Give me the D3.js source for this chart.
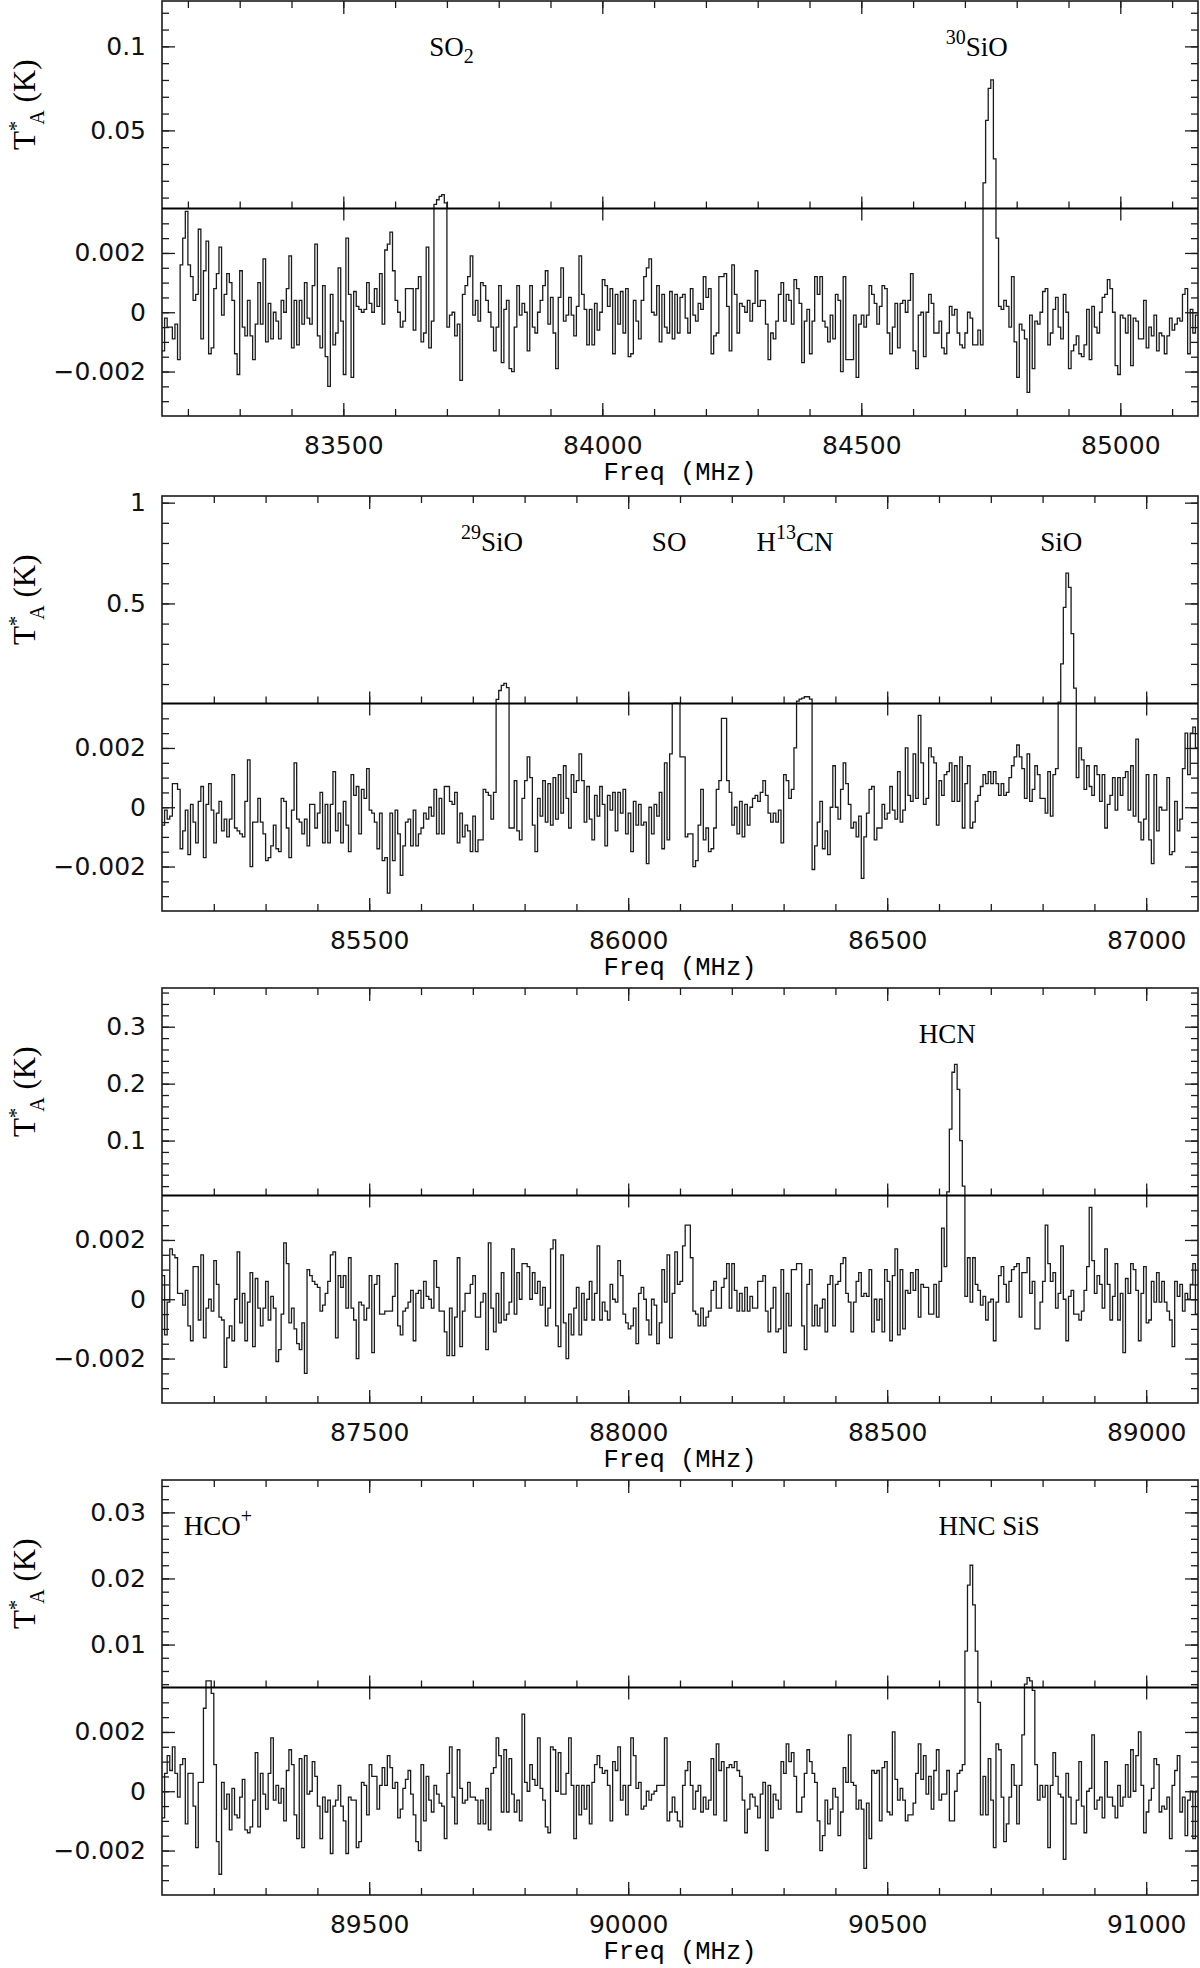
<!DOCTYPE html>
<html>
<head>
<meta charset="utf-8">
<script src="https://d3js.org/d3.v7.min.js"></script>
<style>
  body { margin: 0; background: #fff; }
  svg { display: block; }
</style>
</head>
<body>
<svg id="chart" width="1200" height="1968"></svg>
<script>
// antenna temperature per 5 MHz channel, in units of 0.1 mK (1e-4 K)
var spec1 = [
  -13,-2,-5,-5,-9,-4,-16,16,25,34, 16,12,4,6,28,-9,14,24,-14,-12,
  8,13,22,-1,6,13,10,4,-14,-21, 14,-5,-8,4,-8,-16,-4,10,-4,18,
  -10,3,-9,0,-3,-9,4,0,8,19, -12,4,-11,4,-4,10,-2,-4,9,23,
  -8,-12,9,-15,-25,6,-11,-7,15,-3, -21,25,6,-22,7,2,1,0,1,10,
  3,0,8,2,13,-4,21,23,27,14, 4,0,-5,-3,8,8,8,-6,8,12,
  -10,-7,22,-12,-3,60,87,107,117,68, -5,-1,0,-8,-4,-23,6,9,12,19,
  -1,4,-3,10,9,4,0,-5,-13,-5, 9,-17,1,4,-19,-20,-5,9,-1,3,
  0,-13,9,-5,-7,0,4,9,14,-4, 5,-7,-19,5,15,-3,-1,5,-1,-8,
  2,19,6,1,-11,1,-11,3,-6,0, 11,9,2,8,-14,6,-4,7,-7,8,
  -15,-14,4,-3,-9,4,12,15,18,0, -1,9,-10,6,-5,-7,7,-9,6,-7,
  5,6,-2,-7,8,-1,-3,3,1,12, 5,8,-14,-8,-7,12,12,13,2,-13,
  16,6,-7,3,2,0,4,-3,3,14, 2,4,4,-4,-16,-7,-9,-3,6,10,
  -3,6,4,-4,11,8,3,-17,-3,1, -14,-3,12,6,12,-3,-5,-10,-1,-9,
  6,4,-20,12,-16,-16,-16,-1,-22,-4, -1,-5,-1,9,6,3,-4,2,9,8,
  -7,-14,-5,3,-12,3,4,0,4,13, -13,-19,-1,0,-15,0,6,3,-7,-7,
  -3,-12,-14,-7,2,-1,1,-7,-11,-12, -7,0,-2,-11,-11,-6,-11,187,560,750,
  800,330,25,2,1,4,2,-5,12,-10, -22,-4,-6,-9,-27,-1,-19,-3,-4,0,
  7,8,-11,-7,1,5,-5,-9,6,0, -19,-13,-11,-8,-14,-15,-11,1,-16,2,
  -5,-7,0,5,6,11,8,0,-18,-21, -1,-2,-7,-1,-18,-2,-3,-9,-9,4,
  -12,-5,-8,-1,-13,-7,-8,-14,-8,-2, -6,-4,-2,-3,6,8,-14,1,-7,-1
];
var spec2 = [
  -6,-1,-4,-3,8,8,6,-14,-8,-1, -16,1,-5,-12,2,7,-17,1,8,-1,
  -12,-2,2,-8,-4,-10,-4,11,-7,-8, -9,-10,2,16,-20,-5,-5,3,-5,-9,
  -18,-17,-13,-6,-14,-15,3,2,-7,-17, -1,15,-4,-5,-9,-4,-13,1,1,-7,
  -2,5,-12,1,-12,1,12,-8,-2,-12, 2,-6,-15,11,4,7,-9,6,3,13,
  -1,-2,-5,-14,-2,-18,-17,-29,-2,-18, -1,-9,-23,-13,-5,-4,-13,-1,-13,-9,
  -7,-2,-4,0,-3,6,-9,3,-9,7, 7,2,1,5,-12,-2,-10,-6,-8,-15,
  -3,-15,-11,-11,6,5,4,-4,5,240, 680,930,1030,820,-7,-7,9,-8,-11,3,
  9,17,10,-6,-15,3,-3,9,-5,8, -6,10,-4,11,-2,14,3,-7,11,5,
  9,18,9,-5,7,-4,-11,4,-3,7, 1,-13,4,-1,5,-8,5,-2,6,-9,
  -2,-15,2,-6,1,-6,-5,-19,0,-9, 1,-3,5,-14,15,-11,18,45,50,42,
  17,17,-10,-9,-9,-20,-18,-6,6,-11, -7,-15,-14,-7,6,9,30,30,9,5,
  -6,0,-9,2,-10,1,-6,0,3,4, 2,5,9,4,-2,-5,-2,-5,-1,-12,
  11,9,3,6,20,150,250,300,370,370, 250,-21,-13,-5,2,-14,-8,-16,0,14,
  0,-4,6,15,8,1,-7,-5,-10,-3, -24,-10,-2,6,7,-11,-7,-7,1,-4,
  -2,7,-1,-4,12,-5,-1,20,4,2, 18,3,31,15,1,3,20,17,15,-6,
  9,4,11,12,15,2,14,2,17,-7, 8,14,-7,-5,2,4,7,11,8,12,
  8,12,8,4,8,4,5,10,14,17, 21,17,13,3,18,2,6,14,11,3,
  3,-2,12,-3,11,13,100,2000,4800,6500, 5800,3500,800,10,20,16,6,14,7,4,
  14,11,2,11,-7,1,4,10,-1,10, 4,10,12,-1,14,-3,23,-5,-11,-4,
  11,-11,-19,11,-8,0,-1,-1,10,-16, -15,2,-8,-4,13,25,11,25,27,20
];
var spec3 = [
  8,-12,-1,17,15,14,2,2,-2,3, -9,-14,11,11,-7,15,-13,-3,0,-4,
  13,5,-6,-7,-23,-13,-9,-14,0,16, -8,2,-14,-1,9,-16,7,-3,-9,-3,
  6,-7,1,-3,-21,-17,-5,19,12,-8, -3,-10,-15,-17,-8,-25,10,8,6,5,
  4,-4,-2,2,6,15,16,-13,8,4, 8,-3,14,-3,-7,-20,-1,-2,-7,-3,
  8,-18,5,8,-5,-5,-4,-4,-4,1, 12,-9,-12,-4,-3,-1,3,-14,2,3,
  -3,6,1,0,-3,13,4,-4,-4,-11, -19,-3,-19,-6,14,-16,-4,2,2,5,
  8,-6,-6,-1,2,-17,19,-3,-11,2, -8,9,-7,-5,-1,17,-5,9,0,12,
  12,11,0,9,2,6,-2,4,-9,-3, 17,20,-9,-16,15,-8,-20,-5,-12,-3,
  4,-12,2,-7,0,6,-7,2,18,-7, -1,-4,-7,5,0,-1,13,8,-5,-8,
  -10,-9,-3,-15,2,4,0,-7,-12,0, -2,-15,-8,10,-1,15,-13,2,16,5,
  6,18,25,25,14,-4,-5,-9,-3,-9, -6,-4,3,6,-3,-3,4,7,12,-3,
  12,3,-4,2,-4,4,-4,1,-3,-3, 6,6,8,-4,-11,-3,4,-11,-10,10,
  -18,2,-9,10,10,12,12,-9,-17,5, 10,-9,-2,-9,-3,0,-11,5,8,-9,
  5,6,12,14,2,-1,-11,-1,6,9, 1,2,1,10,-11,0,-7,0,-11,10,
  6,-14,8,17,-12,10,-10,3,2,9, 3,10,-6,5,4,4,-5,-5,5,-6,
  6,24,11,100,1200,2200,2340,1900,1000,200, 1,14,-1,14,5,3,-2,1,-7,-1,
  0,-14,-1,8,11,5,-1,6,10,11, 12,-6,9,9,14,2,6,-10,-10,-1,
  6,25,12,6,9,-3,2,18,0,-14, 1,3,-5,-5,-7,-4,3,11,31,13,
  2,8,5,-3,17,5,-7,1,12,-7, 2,-18,7,2,12,10,3,-14,2,11,
  -8,-7,6,-1,9,-1,6,-1,-4,-7, -16,6,1,5,-4,2,0,5,12,-5
];
var spec4 = [
  -9,6,12,7,15,6,-2,9,11,-11, 6,6,-5,-19,3,3,28,45,45,33,
  9,-17,-28,3,-6,-1,-13,1,-8,-9, -2,4,-13,-14,-12,-3,13,-12,6,-1,
  -6,6,18,-3,2,-4,1,-10,7,14, 9,-8,-16,11,-19,12,-1,0,10,5,
  -5,-16,-2,-7,-3,-21,-5,-3,2,-5, -10,-21,-2,-3,-3,-19,-17,3,2,-8,
  9,5,5,-6,2,8,2,12,8,1, 3,-9,-6,1,4,7,-1,-8,-17,-20,
  9,-10,5,-3,-7,2,-1,-4,-5,-16, 6,15,-2,-11,14,1,-4,-3,3,-2,
  -2,-3,-11,-3,-11,1,-13,6,8,18, 12,-7,14,-7,11,-1,-7,-3,-10,26,
  3,0,9,4,2,18,1,-3,-12,-14, 15,14,0,13,-1,-1,6,18,2,-16,
  2,-8,2,-6,2,-11,3,9,12,8, 6,7,2,-10,10,7,15,-3,2,-8,
  2,18,12,1,3,-6,-5,0,-3,-1, 0,2,2,2,18,-10,-7,-2,-7,-10,
  -12,2,7,10,2,-6,0,2,-7,-2, -6,-3,11,-8,16,7,10,-10,8,9,
  8,10,7,5,-3,-14,-6,-1,-2,-5, -9,-1,3,-20,2,-9,-1,-3,-6,10,
  6,16,10,13,5,-7,-7,-2,6,14, 10,6,3,-10,-20,-15,-3,-11,-6,1,
  -2,-15,-7,8,3,19,3,2,-6,-3, -6,-26,-4,-16,7,6,7,-10,8,10,
  -7,-8,20,4,-3,1,-3,-10,-8,-8, -4,6,16,4,12,-1,5,-6,7,14,
  -3,-1,-1,7,-10,-10,0,6,7,9, 90,190,220,160,90,30,-8,5,-8,11,
  -3,-19,16,14,-2,-17,-11,-2,9,2, -11,2,19,40,50,45,34,9,-3,2,
  -2,2,-19,2,13,5,-1,-2,-23,6, -2,-11,-11,-3,10,-5,-14,0,1,19,
  -6,-3,-2,-9,10,-2,-2,-5,-9,2, -5,-2,9,-2,14,0,12,20,2,-14,
  -7,-3,1,11,9,-7,-5,-6,-2,-16, 2,7,12,-7,-2,-15,-3,0,-16,0
];

var freqStart = [83150, 85100, 87100, 89100];   // MHz, first channel edge
var chanWidth = 5;                              // MHz
var splitLevel = 0.0035;                        // K, break between the two y scales
var upperTop = [0.127, 1.033, 0.368, 0.0349];
var upperMajor = [[0.05, 0.1], [0.5, 1], [0.1, 0.2, 0.3], [0.01, 0.02, 0.03]];
var upperMinorStep = [0.01, 0.1, 0.02, 0.002];
var lowerMajor = [-0.002, 0, 0.002];
var lowerMinorStep = 0.0005;
var freqMajorStep = 500, freqMinorStep = 100;

// species labels: frequency of the label centre, pieces [text, "sub"|"sup"|""]
var labels1 = [
  {freq: 83709, parts: [["SO", ""], ["2", "sub"]]},
  {freq: 84723, parts: [["30", "sup"], ["SiO", ""]]}
];
var labels2 = [
  {freq: 85737, parts: [["29", "sup"], ["SiO", ""]]},
  {freq: 86079, parts: [["SO", ""]]},
  {freq: 86322, parts: [["H", ""], ["13", "sup"], ["CN", ""]]},
  {freq: 86836, parts: [["SiO", ""]]}
];
var labels3 = [
  {freq: 88616, parts: [["HCN", ""]]}
];
var labels4 = [
  {freq: 89208, parts: [["HCO", ""], ["+", "sup"]]},
  {freq: 90697, parts: [["HNC SiS", ""]]}
];

(function() {
    var svg = d3.select('#chart');
    var left = 162, right = 1198, half = 207.5;
    var panelTop = [1, 496, 988, 1480];
    var specs = [spec1, spec2, spec3, spec4];
    var labels = [labels1, labels2, labels3, labels4];
    var ink = '#1c1c1c';

    function fmt(v) {
        if (v === 0) return '0';
        return v < 0 ? '\u2212' + (-v) : '' + v;
    }

    function steps(from, to, step) {
        var out = [];
        var n = Math.ceil((to - from) / step) + 1;
        for (var k = 0; k < n; k++) {
            var v = Math.round((Math.ceil(from / step) + k) * step * 1e6) / 1e6;
            if (v > from + 1e-9 && v < to - 1e-9) out.push(v);
        }
        return out;
    }

    function styleAxis(g, width) {
        g.select('.domain').remove();
        g.selectAll('.tick line').attr('stroke', ink).attr('stroke-width', width || 1.3);
        g.attr('font-family', 'DejaVu Sans').attr('font-size', 25);
        g.selectAll('.tick text').attr('fill', '#111');
    }

    specs.forEach(function(spec, p) {
        var top = panelTop[p];
        var split = top + half, bottom = top + 2 * half;
        var f0 = freqStart[p], f1 = f0 + spec.length * chanWidth;

        var x = d3.scaleLinear().domain([f0, f1]).range([left, right]);
        var yLow = d3.scaleLinear().domain([-splitLevel, splitLevel]).range([bottom, split]);
        var yUp = d3.scaleLinear().domain([splitLevel, upperTop[p]]).range([split, top]);
        var y = function(v) { return v > splitLevel ? yUp(v) : yLow(v); };

        var panel = svg.append('g').attr('class', 'panel');

        var xMajor = steps(f0, f1, freqMajorStep);
        var xMinor = steps(f0, f1, freqMinorStep);

        // frequency ticks: bottom (labelled), top, and the break line
        panel.append('g').attr('transform', 'translate(0,' + bottom + ')')
            .call(d3.axisBottom(x).tickValues(xMinor).tickSize(-7).tickFormat(''))
            .call(styleAxis);
        panel.append('g').attr('transform', 'translate(0,' + bottom + ')')
            .call(d3.axisBottom(x).tickValues(xMajor).tickSizeInner(-13).tickSizeOuter(0)
                .tickPadding(20).tickFormat(d3.format('d')))
            .call(styleAxis);
        panel.append('g').attr('transform', 'translate(0,' + top + ')')
            .call(d3.axisTop(x).tickValues(xMinor).tickSize(-7).tickFormat(''))
            .call(styleAxis);
        panel.append('g').attr('transform', 'translate(0,' + top + ')')
            .call(d3.axisTop(x).tickValues(xMajor).tickSize(-13).tickFormat(''))
            .call(styleAxis);
        panel.append('g').attr('transform', 'translate(0,' + split + ')')
            .call(d3.axisBottom(x).tickValues(xMinor).tickSize(-7).tickFormat(''))
            .call(styleAxis);
        panel.append('g').attr('transform', 'translate(0,' + split + ')')
            .call(d3.axisBottom(x).tickValues(xMajor).tickSize(-12).tickFormat(''))
            .call(styleAxis);
        panel.append('g').attr('transform', 'translate(0,' + split + ')')
            .call(d3.axisTop(x).tickValues(xMajor).tickSize(-12).tickFormat(''))
            .call(styleAxis);

        // temperature ticks, left (labelled) and right
        var lowMinor = steps(-splitLevel, splitLevel, lowerMinorStep);
        var upMinor = steps(splitLevel, upperTop[p], upperMinorStep[p]);
        [[yLow, lowerMajor, lowMinor], [yUp, upperMajor[p], upMinor]].forEach(function(s) {
            panel.append('g').attr('transform', 'translate(' + left + ',0)')
                .call(d3.axisLeft(s[0]).tickValues(s[2]).tickSize(-7).tickFormat(''))
                .call(styleAxis);
            panel.append('g').attr('transform', 'translate(' + left + ',0)')
                .call(d3.axisLeft(s[0]).tickValues(s[1]).tickSizeInner(-13).tickSizeOuter(0)
                    .tickPadding(16).tickFormat(fmt))
                .call(styleAxis);
            panel.append('g').attr('transform', 'translate(' + right + ',0)')
                .call(d3.axisRight(s[0]).tickValues(s[2]).tickSize(-7).tickFormat(''))
                .call(styleAxis);
            panel.append('g').attr('transform', 'translate(' + right + ',0)')
                .call(d3.axisRight(s[0]).tickValues(s[1]).tickSize(-13).tickFormat(''))
                .call(styleAxis);
        });

        // spectrum as a histogram
        var pts = spec.map(function(v, i) { return {f: f0 + i * chanWidth, v: v / 1e4}; });
        pts.push({f: f1, v: spec[spec.length - 1] / 1e4});
        var line = d3.line()
            .x(function(d) { return x(d.f); })
            .y(function(d) { return y(d.v); })
            .curve(d3.curveStepAfter);
        panel.append('clipPath').attr('id', 'clip' + p)
            .append('rect').attr('x', left).attr('y', top)
            .attr('width', right - left).attr('height', bottom - top);
        panel.append('path')
            .attr('d', line(pts))
            .attr('fill', 'none')
            .attr('stroke', ink)
            .attr('stroke-width', 1.3)
            .attr('clip-path', 'url(#clip' + p + ')');

        // frame and break line
        panel.append('rect')
            .attr('x', left).attr('y', top)
            .attr('width', right - left).attr('height', bottom - top)
            .attr('fill', 'none').attr('stroke', ink).attr('stroke-width', 1.6);
        panel.append('line')
            .attr('x1', left).attr('x2', right).attr('y1', split).attr('y2', split)
            .attr('stroke', '#000').attr('stroke-width', 1.9);

        // axis titles
        panel.append('text')
            .attr('x', (left + right) / 2).attr('y', bottom + 64)
            .attr('text-anchor', 'middle')
            .attr('font-family', 'Liberation Mono').attr('font-size', 25.5)
            .text('Freq (MHz)');

        var yt = panel.append('text')
            .attr('transform', 'translate(35,' + (top + half / 2) + ') rotate(-90)')
            .attr('text-anchor', 'middle')
            .attr('font-family', 'Liberation Serif').attr('font-size', 31);
        yt.append('tspan').text('T');
        yt.append('tspan').attr('dy', -12).attr('font-size', 21).text('*');
        yt.append('tspan').attr('dx', -4).attr('dy', 21).attr('font-size', 20).text('A');
        yt.append('tspan').attr('dy', -9).text(' (K)');

        // species labels
        labels[p].forEach(function(lab) {
            var t = panel.append('text')
                .attr('x', x(lab.freq)).attr('y', top + 55)
                .attr('text-anchor', 'middle')
                .attr('font-family', 'Liberation Serif').attr('font-size', 27);
            var shift = 0;
            lab.parts.forEach(function(part) {
                var want = part[1] === 'sup' ? -12 : (part[1] === 'sub' ? 7 : 0);
                var ts = t.append('tspan').attr('dy', want - shift).text(part[0]);
                if (part[1]) ts.attr('font-size', 20);
                shift = want;
            });
        });
    });
})();
</script>
</body>
</html>
